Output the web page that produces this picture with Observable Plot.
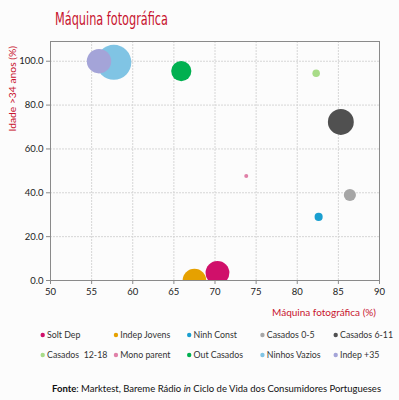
<!DOCTYPE html>
<html>
<head>
<meta charset="utf-8">
<script src="https://cdn.jsdelivr.net/npm/d3@7"></script>
<script src="https://cdn.jsdelivr.net/npm/@observablehq/plot@0.6"></script>
<style>
  html, body { margin: 0; padding: 0; background: #fcfcfc; }
  #chart { width: 399px; height: 400px; }
</style>
</head>
<body>
<div id="chart"></div>
<script>
// ---- data ----
const segmentos = ["Solt Dep", "Indep Jovens", "Ninh Const", "Casados 0-5", "Casados 6-11",
                   "Casados  12-18", "Mono parent", "Out Casados", "Ninhos Vazios", "Indep +35"];
const maquinaFotografica = [70.3, 67.5, 82.6, 86.4, 85.3, 82.3, 73.8, 65.9, 57.7, 55.9];
const idadeMais34 = [3.5, 0.0, 29.0, 39.0, 72.3, 94.5, 47.7, 95.5, 99.5, 100.0];
const tamanho = [13.9, 13.7, 1.6, 3.6, 16.4, 1.4, 0.4, 10.0, 30.0, 14.6];
const cores = ["#d0106a", "#e6a100", "#1a9fd0", "#a6a6a6", "#505050",
               "#a8dc88", "#e080a8", "#00b050", "#80c4e4", "#a4a4d8"];
const xTicks = [50, 55, 60, 65, 70, 75, 80, 85, 90];
const yTicks = [0, 20, 40, 60, 80, 100];

const data = segmentos.map((s, i) => ({
  segmento: s, x: maquinaFotografica[i], y: idadeMais34[i], r: tamanho[i], cor: cores[i]
}));

const font = "Lato, 'Open Sans', sans-serif";
const red = "#c8142f";

const plot = Plot.plot({
  width: 399,
  height: 400,
  marginTop: 41,
  marginRight: 20,
  marginBottom: 120,
  marginLeft: 50,
  style: { background: "#fcfcfc", fontFamily: font, fontSize: "9.5px", color: "#222" },
  x: { domain: [50, 90], ticks: xTicks, label: null },
  y: { domain: [0, 109], ticks: yTicks, label: null, tickFormat: d3.format(".1f") },
  r: { domain: [0, 30], range: [0, 17.5] },
  marks: [
    Plot.gridX(xTicks.slice(1, -1), { stroke: "#d6d6d6", strokeOpacity: 1, strokeDasharray: "2,1" }),
    Plot.gridY(yTicks.slice(1), { stroke: "#d6d6d6", strokeOpacity: 1, strokeDasharray: "2,1" }),
    Plot.frame({ stroke: "#8a8a8a" }),
    Plot.axisX({ ticks: xTicks, tickSize: 4, tickPadding: 4, stroke: "#8a8a8a", fill: "#222" }),
    Plot.axisY({ ticks: yTicks, tickSize: 4, tickPadding: 3, stroke: "#8a8a8a", fill: "#222",
                 tickFormat: d3.format(".1f") }),
    Plot.dot(data, { x: "x", y: "y", r: "r", fill: "cor", stroke: "none", clip: true })
  ]
});

document.getElementById("chart").appendChild(plot);

const svg = d3.select(plot);

// Title
svg.append("text")
  .attr("x", 55).attr("y", 25)
  .attr("text-anchor", "start")
  .attr("fill", red)
  .attr("font-family", "'Liberation Sans Narrow', 'DejaVu Sans Condensed', sans-serif")
  .attr("font-size", 18.5)
  .attr("textLength", 113).attr("lengthAdjust", "spacingAndGlyphs")
  .text("Máquina fotográfica");

// Y axis label
svg.append("text")
  .attr("transform", "translate(16,46) rotate(-90)")
  .attr("text-anchor", "end")
  .attr("fill", red)
  .attr("font-family", font)
  .attr("font-size", 10.3)
  .text("Idade >34 anos (%)");

// X axis label
svg.append("text")
  .attr("x", 376).attr("y", 316)
  .attr("text-anchor", "end")
  .attr("fill", red)
  .attr("font-family", font)
  .attr("font-size", 10)
  .text("Máquina fotográfica (%)");

// Legend
const leg = svg.append("g").attr("font-family", font).attr("font-size", 8.8).attr("fill", "#333")
  .attr("text-anchor", "start");
segmentos.forEach((s, i) => {
  const col = i % 5, row = Math.floor(i / 5);
  const x0 = 42.7 + col * 73.25, y0 = 335 + row * 20;
  leg.append("circle").attr("cx", x0).attr("cy", y0).attr("r", 2.2).attr("fill", cores[i]);
  leg.append("text").attr("x", x0 + 4.3).attr("y", y0).attr("dy", "0.35em")
    .attr("text-anchor", "start")
    .attr("xml:space", "preserve").style("white-space", "pre").text(s);
});

// Source
const src = svg.append("text")
  .attr("x", 52).attr("y", 389).attr("dy", "0.35em")
  .attr("text-anchor", "start")
  .attr("font-family", font).attr("font-size", 9).attr("fill", "#111")
  .attr("textLength", 329).attr("lengthAdjust", "spacingAndGlyphs");
src.append("tspan").attr("font-weight", "bold").text("Fonte");
src.append("tspan").text(": Marktest, Bareme Rádio ");
src.append("tspan").attr("font-style", "italic").text("in");
src.append("tspan").text(" Ciclo de Vida dos Consumidores Portugueses");
</script>
</body>
</html>
